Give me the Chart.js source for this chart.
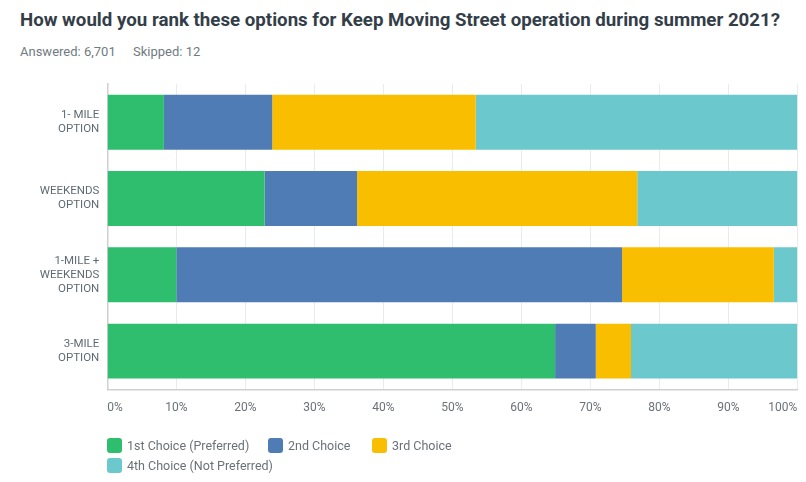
<!DOCTYPE html>
<html>
<head>
<meta charset="utf-8">
<script src="https://cdn.jsdelivr.net/npm/chart.js@4.4.0/dist/chart.umd.min.js"></script>
<style>
  html, body { margin: 0; padding: 0; background: #fff; }
  #wrap { position: relative; width: 806px; height: 482px; overflow: hidden; font-family: Roboto, sans-serif; }
  #chart { position: absolute; left: 0; top: 0; }
  .title { position: absolute; left: 20px; top: 9px; font-size: 18.7px; font-weight: 700; color: #333e48; white-space: nowrap; }
  .meta { position: absolute; top: 44px; font-size: 13px; color: #6f7b82; white-space: nowrap; }
  .leg { position: absolute; font-size: 12.5px; color: #6a7178; white-space: nowrap; line-height: 16px; }
  .leg i { position: absolute; left: 0; top: 0; width: 15px; height: 15px; border-radius: 3px; }
  .leg span { position: absolute; left: 20px; top: 0; }
</style>
</head>
<body>
<div id="wrap">
  <div class="title">How would you rank these options for Keep Moving Street operation during summer 2021?</div>
  <div class="meta" style="left:20px">Answered: 6,701</div>
  <div class="meta" style="left:133px">Skipped: 12</div>
  <canvas id="chart" width="806" height="482"></canvas>
  <div id="legend"></div>
</div>
<script>
// options, top to bottom
const categories = [
  ['1- MILE', 'OPTION'],
  ['WEEKENDS', 'OPTION'],
  ['1-MILE +', 'WEEKENDS', 'OPTION'],
  ['3-MILE', 'OPTION']
];

// share of respondents (%) per rank
const firstChoice  = [8.2, 22.8, 10.0, 64.9];
const secondChoice = [15.7, 13.4, 64.6, 5.9];
const thirdChoice  = [29.5, 40.6, 22.0, 5.1];
const fourthChoice = [46.6, 23.2, 3.4, 24.1];

const seriesNames = ['1st Choice (Preferred)', '2nd Choice', '3rd Choice', '4th Choice (Not Preferred)'];
const seriesColors = ['#2ebe6e', '#4f7cb5', '#f9be00', '#6bc8cd'];

const xTicks = [0, 10, 20, 30, 40, 50, 60, 70, 80, 90, 100];

const seriesData = [firstChoice, secondChoice, thirdChoice, fourthChoice];

const ctx = document.getElementById('chart').getContext('2d');
new Chart(ctx, {
  type: 'bar',
  data: {
    labels: categories,
    datasets: seriesData.map((d, i) => ({
      label: seriesNames[i],
      data: d,
      backgroundColor: seriesColors[i],
      borderWidth: 0,
      barPercentage: 0.72,
      categoryPercentage: 1
    }))
  },
  options: {
    indexAxis: 'y',
    responsive: false,
    animation: false,
    layout: { padding: { left: 20, right: 8.7, top: 84, bottom: 62.7 } },
    plugins: {
      legend: { display: false },
      tooltip: { enabled: false }
    },
    scales: {
      x: {
        stacked: true,
        min: 0,
        max: 100,
        afterBuildTicks: s => { s.ticks = xTicks.map(v => ({ value: v })); },
        afterFit: s => { s.height = 30; },
        // invisible tick marks keep the labels off the axis without
        // the tick padding eating into the right edge
        grid: { color: '#ebebeb', lineWidth: 1, drawTicks: true, tickLength: 11, tickColor: 'rgba(0,0,0,0)' },
        border: { display: true, color: '#cfcfcf', width: 1.5 },
        ticks: {
          align: 'inner',
          padding: 0,
          color: '#6a7178',
          font: { family: 'Roboto', size: 12 },
          callback: v => v + '%'
        }
      },
      y: {
        stacked: true,
        afterFit: s => { s.width = 87.3; },
        grid: { display: false, drawTicks: false },
        border: { display: true, color: '#cfcfcf', width: 1.5 },
        ticks: {
          padding: 8,
          color: '#5f6b73',
          font: { family: 'Roboto', size: 11.5, lineHeight: 1.22 }
        }
      }
    }
  }
});

// legend laid out like the survey export
const legendSpots = [[107, 438], [268, 438], [372, 438], [107, 458]];
const legendEl = document.getElementById('legend');
seriesNames.forEach((name, i) => {
  const item = document.createElement('div');
  item.className = 'leg';
  item.style.left = legendSpots[i][0] + 'px';
  item.style.top = legendSpots[i][1] + 'px';
  item.innerHTML = `<i style="background:${seriesColors[i]}"></i><span>${name}</span>`;
  legendEl.appendChild(item);
});
</script>
</body>
</html>
